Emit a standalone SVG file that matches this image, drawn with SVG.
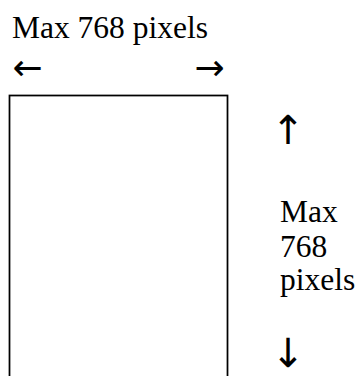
<svg xmlns="http://www.w3.org/2000/svg" width="356" height="376" viewBox="0 0 356 376">
<style>
.t{font-family:"Liberation Serif","Times New Roman",serif;font-size:31.5px;fill:#000}
.a{font-family:"DejaVu Sans",sans-serif;font-size:36px;fill:#000;text-anchor:middle}
.v{font-family:"DejaVu Sans",sans-serif;font-size:40px;fill:#000;text-anchor:middle}
.box{fill:#fff;stroke:#000;stroke-width:1.75}
</style>
<rect width="356" height="376" fill="#fff"/>
<g id="page">
<rect class="box" x="9.5" y="95.5" width="218" height="300"/>
</g>
<g id="width-label">
<text class="t" x="12" y="38">Max 768 pixels</text>
</g>
<g id="height-label">
<text class="t" x="280" y="222">Max</text>
<text class="t" x="280" y="256.5">768</text>
<text class="t" x="280" y="290">pixels</text>
</g>
<g id="connectors">
<text class="a" x="27.5" y="79.5">←</text>
<text class="a" x="209.5" y="79.5">→</text>
<text class="v" x="288" y="144">↑</text>
<text class="v" x="288" y="367">↓</text>
</g>
</svg>
